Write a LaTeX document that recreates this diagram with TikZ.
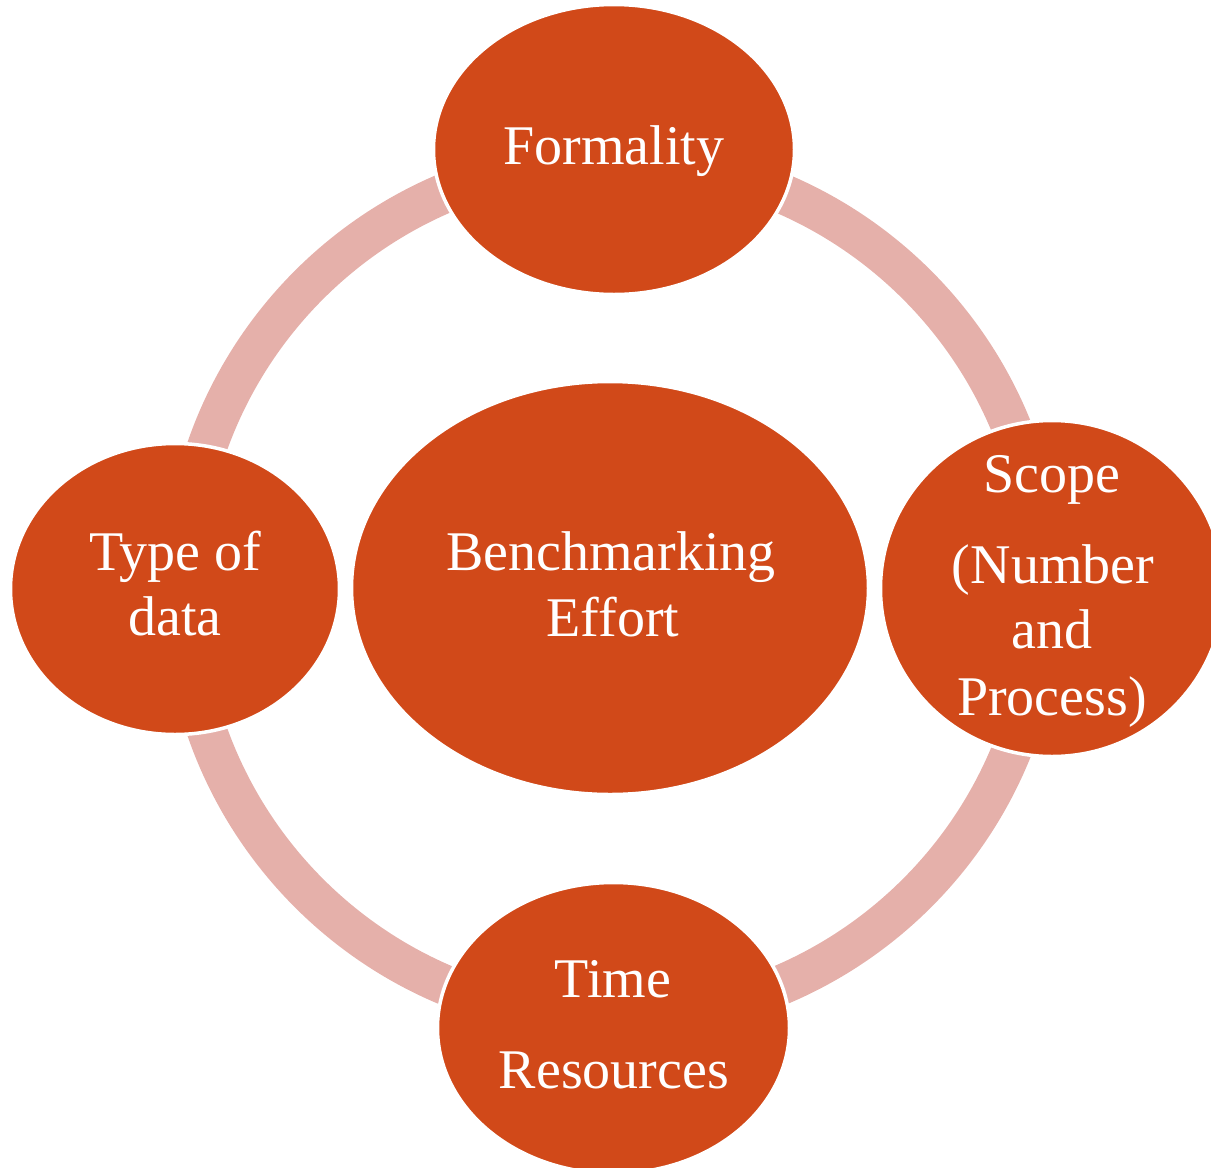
\documentclass[tikz,border=0pt]{standalone}
\usepackage{fontspec}
\setmainfont{Liberation Serif}
\usetikzlibrary{shapes.geometric}
\definecolor{nodeorange}{RGB}{209,73,25}
\definecolor{ringpink}{RGB}{229,176,170}
\tikzset{
  blob/.style={ellipse, fill=nodeorange, draw=white, line width=3.5pt, inner sep=0pt},
  lbl/.style={anchor=base, inner sep=0pt, text=white, font=\fontsize{56}{66}\selectfont},
  ringline/.style={draw=ringpink, line width=40pt}
}
\begin{document}
\begin{tikzpicture}[x=1pt,y=-1pt]
\useasboundingbox (0,0) rectangle (1211,1168);
\clip (0,0) rectangle (1211,1168);
% ring
\draw[ringline] (613,589) circle[radius=430];
% ellipses
\node[blob, minimum width=517pt, minimum height=413pt] (center) at (610,588) {};
\node[blob, minimum width=361pt, minimum height=290pt] (formality) at (614,149.5) {};
\node[blob, minimum width=329pt, minimum height=291pt] (typedata) at (175,589) {};
\node[blob, minimum width=343pt, minimum height=336pt] (scope) at (1052,588.5) {};
\node[blob, minimum width=352pt, minimum height=291pt] (time) at (613.5,1028) {};
% labels
\node[lbl] (tForm) at (614,164) {Formality};
\node[lbl] (tBench1) at (611,570) {Benchmarking};
\node[lbl] (tBench2) at (613,636) {Effort};
\node[lbl] (tType1) at (175,570) {Type of};
\node[lbl] (tType2) at (175,635) {data};
\node[lbl] (tScope1) at (1052,492) {Scope};
\node[lbl] (tScope2) at (1053,583) {(Number};
\node[lbl] (tScope3) at (1052,648) {and};
\node[lbl] (tScope4) at (1052,715) {Process)};
\node[lbl] (tTime1) at (613,997) {Time};
\node[lbl] (tTime2) at (614,1088) {Resources};
\end{tikzpicture}
\end{document}
